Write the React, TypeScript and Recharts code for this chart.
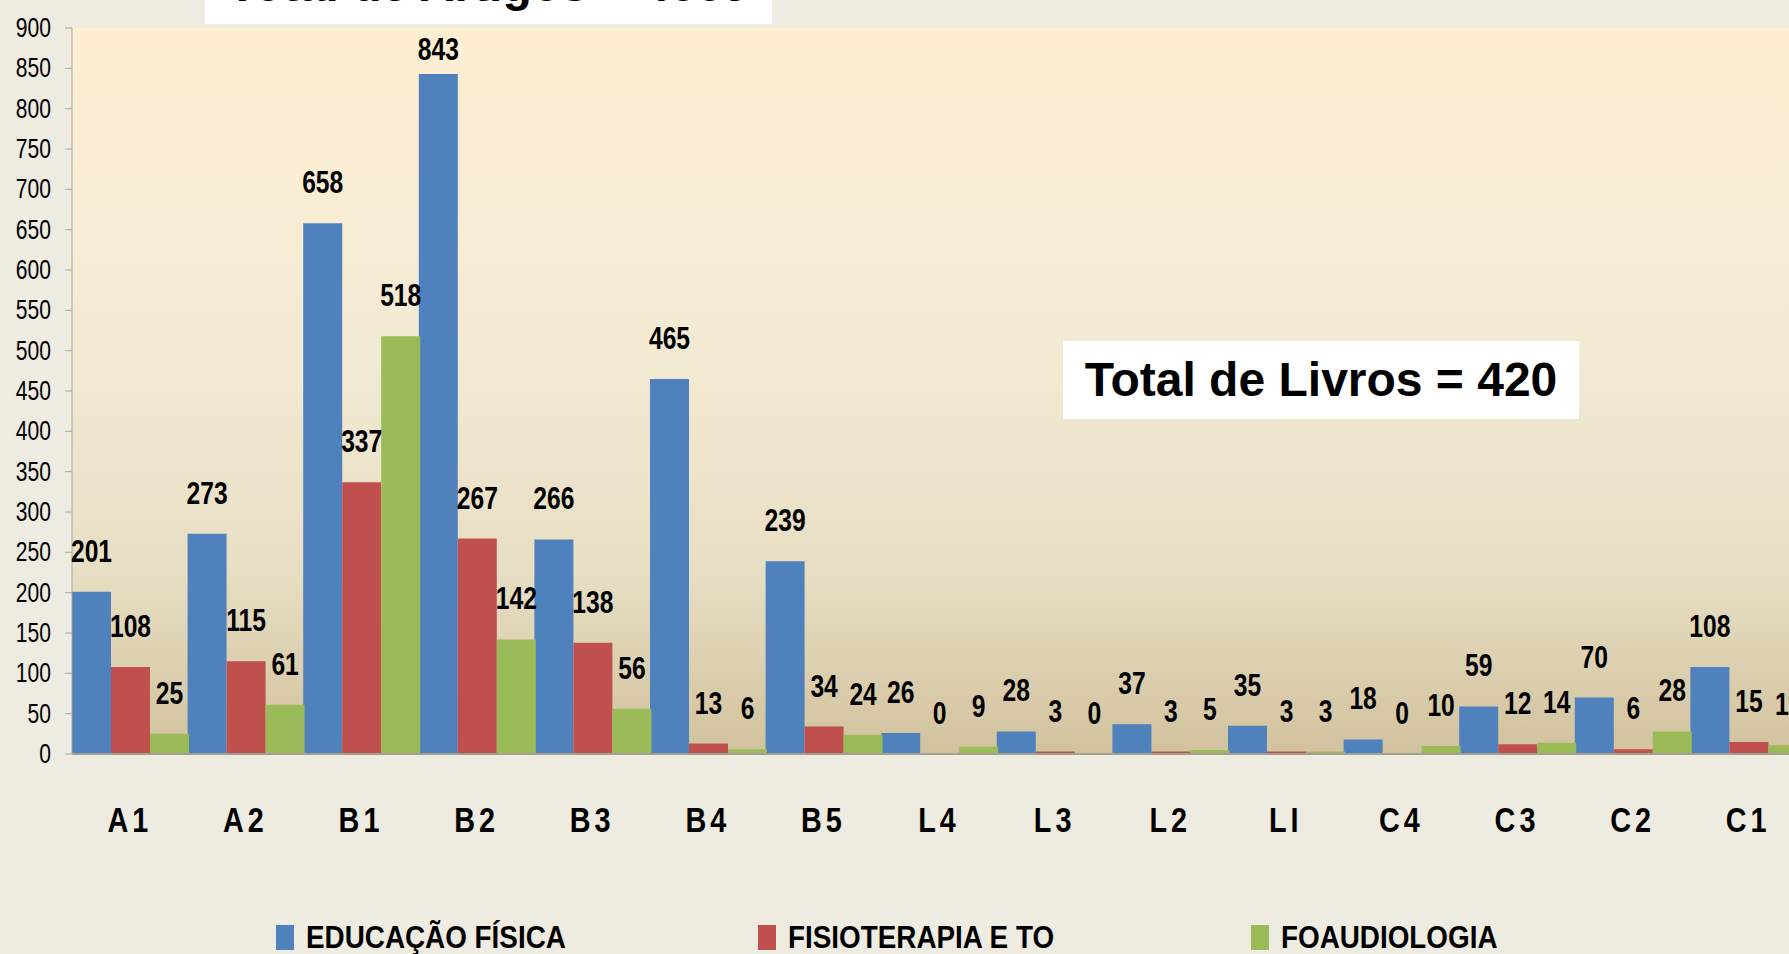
import { BarChart, Bar, XAxis, YAxis, CartesianGrid, LabelList } from "recharts";

const categories = ["A1", "A2", "B1", "B2", "B3", "B4", "B5", "L4", "L3", "L2", "LI", "C4", "C3", "C2", "C1"];
const educacaoFisica = [201, 273, 658, 843, 266, 465, 239, 26, 28, 37, 35, 18, 59, 70, 108];
const fisioterapia = [108, 115, 337, 267, 138, 13, 34, 0, 3, 3, 3, 0, 12, 6, 15];
const fonoaudiologia = [25, 61, 518, 142, 56, 6, 24, 9, 0, 5, 3, 10, 14, 28, 11];
const yTicks = [0, 50, 100, 150, 200, 250, 300, 350, 400, 450, 500, 550, 600, 650, 700, 750, 800, 850, 900];

const series = [
	{ key: "edu", name: "EDUCAÇÃO FÍSICA", color: "#4F81BD", values: educacaoFisica },
	{ key: "fisio", name: "FISIOTERAPIA E TO", color: "#C0504D", values: fisioterapia },
	{ key: "fono", name: "FOAUDIOLOGIA", color: "#9BBB59", values: fonoaudiologia },
];

const data = categories.map((cat, i) => {
	const row: Record<string, string | number> = { cat };
	series.forEach((s) => {
		row[s.key] = s.values[i];
	});
	return row;
});

const sans = "'Liberation Sans', Arial, sans-serif";
const legendLeft = [276, 758, 1251];

// narrow look: regular sans squeezed horizontally
const CategoryTick = (props: any) => {
	const { x, y, payload } = props;
	return (
		<text
			transform={`translate(${x},${y + 70}) scale(0.8,1)`}
			textAnchor="middle"
			fontFamily={sans}
			fontWeight="bold"
			fontSize={36}
			letterSpacing={5}
			fill="#000"
		>
			{payload.value}
		</text>
	);
};

const ValueTick = (props: any) => {
	const { x, y, payload } = props;
	return (
		<text
			transform={`translate(${x},${y + 9}) scale(0.78,1)`}
			textAnchor="end"
			fontFamily={sans}
			fontSize={27}
			fill="#000"
		>
			{payload.value}
		</text>
	);
};

const BarLabel = (props: any) => {
	const { x, y, width, value } = props;
	const cx = Number(x) + Number(width) / 2;
	// keep labels inside the plot like excel does
	const base = Math.max(Number(y) - 30, 60);
	return (
		<text
			transform={`translate(${cx},${base}) scale(0.77,1)`}
			textAnchor="middle"
			fontFamily={sans}
			fontWeight="bold"
			fontSize={32}
			fill="#000"
		>
			{value}
		</text>
	);
};

const boxStyle: React.CSSProperties = {
	position: "absolute",
	background: "#fff",
	height: 78,
	lineHeight: "78px",
	textAlign: "center",
	fontFamily: sans,
	fontWeight: "bold",
	fontSize: 48,
	color: "#000",
	whiteSpace: "nowrap",
};

export default function App() {
	return (
		<div
			style={{
				position: "fixed",
				left: 0,
				top: 0,
				width: 1789,
				height: 954,
				overflow: "hidden",
				background: "#EEEBE0",
			}}
		>
			<BarChart
				width={1830}
				height={954}
				data={data}
				margin={{ top: 28, right: 24, bottom: 120, left: 0 }}
				barCategoryGap={0}
				barGap={0}
			>
				<defs>
					<linearGradient id="plotBg" x1="0" y1="0" x2="0" y2="1">
						<stop offset="0%" stopColor="#FEEFD3" />
						<stop offset="45%" stopColor="#F3EAD4" />
						<stop offset="75%" stopColor="#E7DEC3" />
						<stop offset="100%" stopColor="#D2C29E" />
					</linearGradient>
				</defs>
				<CartesianGrid horizontal={false} vertical={false} fill="url(#plotBg)" />
				<XAxis
					dataKey="cat"
					height={80}
					tickLine={false}
					axisLine={{ stroke: "#A29E92", strokeWidth: 2 }}
					tick={<CategoryTick />}
					interval={0}
				/>
				<YAxis
					width={72}
					domain={[0, 900]}
					ticks={yTicks}
					interval={0}
					tickSize={7}
					tickMargin={14}
					axisLine={{ stroke: "#A6A6A6" }}
					tickLine={{ stroke: "#A6A6A6" }}
					tick={<ValueTick />}
				/>
				{series.map((s) => (
					<Bar
						key={s.key}
						dataKey={s.key}
						name={s.name}
						fill={s.color}
						minPointSize={(v: number) => (v === 0 ? 0.5 : 0)}
						isAnimationActive={false}
					>
						<LabelList dataKey={s.key} content={<BarLabel />} />
					</Bar>
				))}
			</BarChart>

			<div style={{ ...boxStyle, left: 205, top: -54, width: 567 }}>Total de Artigos = 4669</div>
			<div style={{ ...boxStyle, left: 1063, top: 341, width: 516 }}>Total de Livros = 420</div>

			{series.map((s, i) => (
				<div
					key={s.key}
					style={{
						position: "absolute",
						left: legendLeft[i],
						top: 922,
						display: "flex",
						alignItems: "center",
						whiteSpace: "nowrap",
					}}
				>
					<div style={{ width: 18, height: 25, background: s.color, marginRight: 12 }} />
					<span
						style={{
							display: "inline-block",
							fontFamily: sans,
							fontWeight: "bold",
							fontSize: 32,
							color: "#000",
							lineHeight: "30px",
							transform: "scaleX(0.87)",
							transformOrigin: "left center",
						}}
					>
						{s.name}
					</span>
				</div>
			))}
		</div>
	);
}
